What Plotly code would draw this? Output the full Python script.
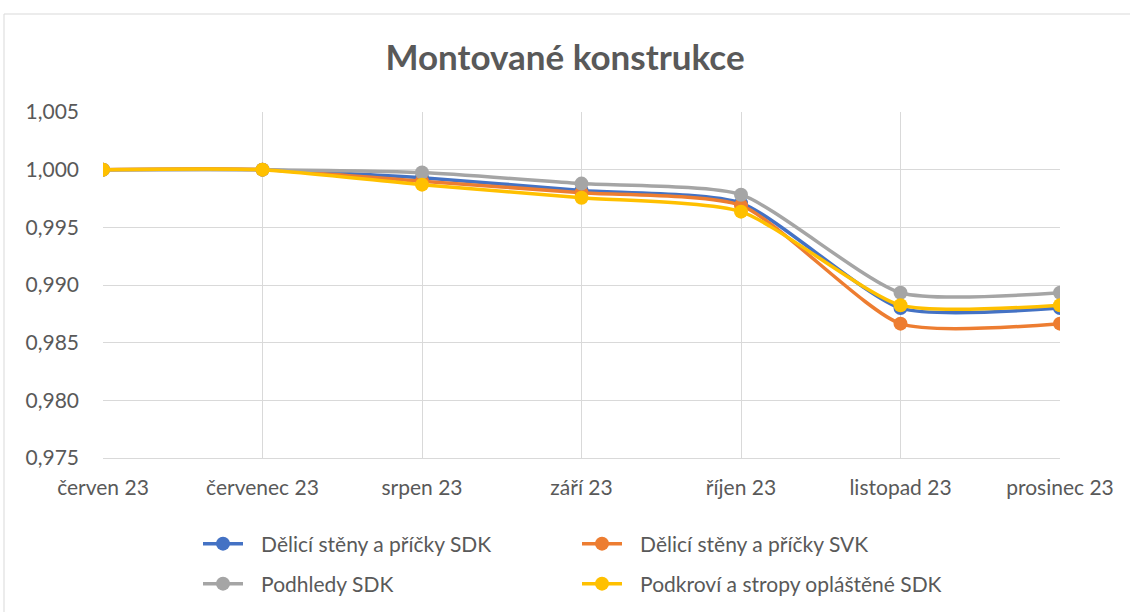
import plotly.graph_objects as go

categories = ["červen 23", "červenec 23", "srpen 23", "září 23", "říjen 23", "listopad 23", "prosinec 23"]
s_delici_sdk = [1.0000, 1.0000, 0.9993, 0.9982, 0.9971, 0.9880, 0.9880]
s_delici_svk = [1.0000, 1.0000, 0.9990, 0.9980, 0.9969, 0.98665, 0.98665]
s_podhledy = [1.0000, 1.0000, 0.99975, 0.99879, 0.99783, 0.98933, 0.98933]
s_podkrovi = [1.0000, 1.0000, 0.9987, 0.99757, 0.99636, 0.98825, 0.98825]
names = ["Dělicí stěny a příčky SDK", "Dělicí stěny a příčky SVK", "Podhledy SDK", "Podkroví a stropy opláštěné SDK"]
colors = ["#4472C4", "#ED7D31", "#A5A5A5", "#FFC000"]
series = [s_delici_sdk, s_delici_svk, s_podhledy, s_podkrovi]
legends = ["legend", "legend", "legend2", "legend2"]

FONT = "Lato, Open Sans, sans-serif"
TXT = "#595959"

fig = go.Figure()
for name, vals, col, lg in zip(names, series, colors, legends):
    fig.add_trace(go.Scatter(
        x=categories, y=vals, name="\u2002\u2009" + name, mode="lines+markers",
        line=dict(color=col, width=3.5, shape="spline", smoothing=0.6),
        marker=dict(color=col, size=14),
        legend=lg,
    ))

leg_common = dict(orientation="h", xref="container", yref="container", xanchor="left", yanchor="middle",
                  entrywidth=324, entrywidthmode="pixels", itemwidth=40,
                  font=dict(family=FONT, size=21, color=TXT), bgcolor="rgba(0,0,0,0)")

fig.update_layout(
    width=1130, height=612,
    paper_bgcolor="white", plot_bgcolor="white",
    separators=", ",
    margin=dict(l=103, r=70, t=112, b=154),
    title=dict(text="<b>Montované konstrukce</b>", x=0.5, xref="container", xanchor="center",
               y=1 - 58 / 612, yref="container", yanchor="middle",
               font=dict(family=FONT, size=35, color=TXT)),
    xaxis=dict(showgrid=True, gridcolor="#D9D9D9", gridwidth=1, showline=True, linecolor="#D9D9D9",
               tickfont=dict(family=FONT, size=21, color=TXT), ticks="", range=[0, 6], zeroline=False,
               ticklabelstandoff=11),
    yaxis=dict(range=[0.975, 1.005], dtick=0.005, tickformat=".3f", showgrid=True, gridcolor="#D9D9D9",
               gridwidth=1, zeroline=False, showline=False,
               tickfont=dict(family=FONT, size=21, color=TXT), ticks="", ticklabelstandoff=23),
    legend=dict(x=198 / 1130, y=1 - 544 / 612, **leg_common),
    legend2=dict(x=198 / 1130, y=1 - 584 / 612, **leg_common),
    shapes=[dict(type="rect", xref="paper", yref="paper", x0=(4 - 103) / 957, x1=1.3,
                 y0=-0.6, y1=(458 - 14) / 346, line=dict(color="#D9D9D9", width=1), layer="below")],
)
fig.update_xaxes(type="category")
fig.write_html("out.html", config={"displayModeBar": False},
               post_script="document.body.style.margin='0';document.body.style.padding='0';")
